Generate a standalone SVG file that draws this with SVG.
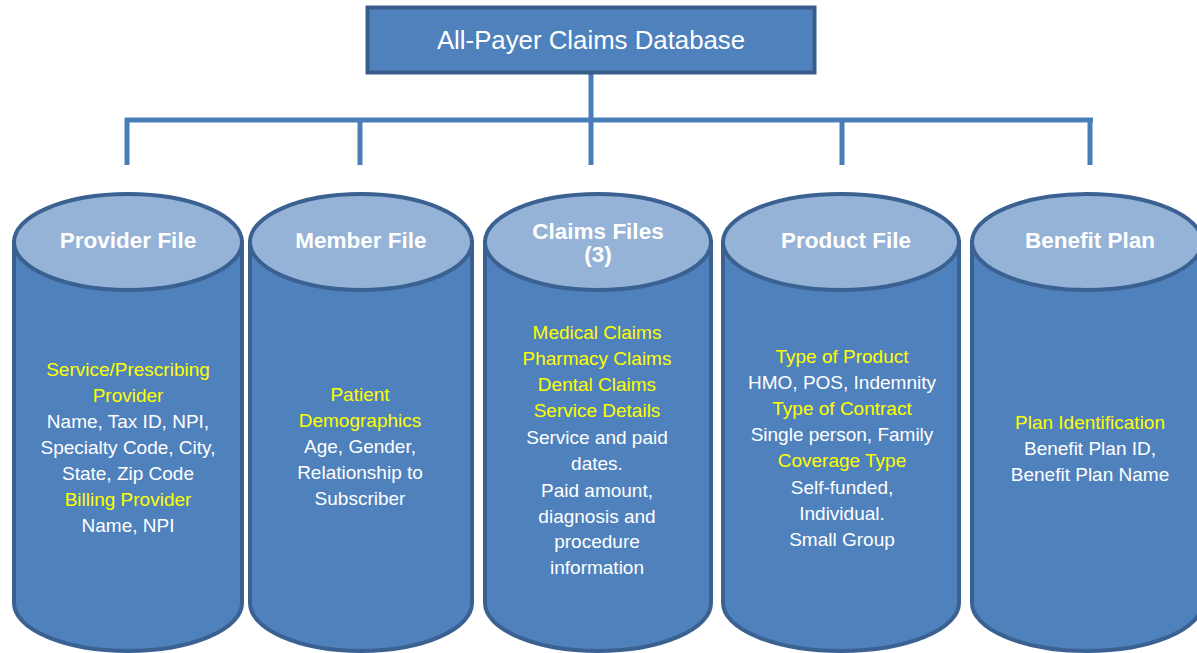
<svg xmlns="http://www.w3.org/2000/svg" width="1197" height="653" viewBox="0 0 1197 653">
<style>
.body{fill:#4f81bd;stroke:#3a6191;stroke-width:4}
.top{fill:#95b3d7;stroke:#3a6191;stroke-width:4}
.title{font-family:"Liberation Sans",Arial,sans-serif;font-weight:bold;font-size:22.5px;fill:#ffffff;text-anchor:middle}
.t{font-family:"Liberation Sans",Arial,sans-serif;font-size:19px;fill:#ffffff;text-anchor:middle}
.y{fill:#ffff00}
.conn{stroke:#4a7ebb;stroke-width:5;fill:none}
</style>
<rect width="1197" height="653" fill="#ffffff"/>
<g id="connectors">
<path class="conn" d="M591 73 V120 M125 120 H1093 M127 118 V165 M360 118 V165 M591 118 V165 M842 118 V165 M1090 118 V165"/>
</g>
<g id="root">
<rect x="367.5" y="7.5" width="447" height="65" fill="#4f81bd" stroke="#385d8a" stroke-width="4"/>
<text x="591" y="49" font-family="Liberation Sans,Arial,sans-serif" font-size="25.8" fill="#ffffff" text-anchor="middle">All-Payer Claims Database</text>
</g>
<g id="provider">
<path class="body" d="M14 242 V603 A114 48 0 0 0 242 603 V242 Z"/>
<ellipse class="top" cx="128" cy="242" rx="114" ry="48"/>
<text class="title" x="128" y="248">Provider File</text>
<text class="t" x="128" y="376"><tspan class="y">Service/Prescribing</tspan><tspan class="y" x="128" dy="26">Provider</tspan><tspan x="128" dy="26">Name, Tax ID, NPI,</tspan><tspan x="128" dy="26">Specialty Code, City,</tspan><tspan x="128" dy="26">State, Zip Code</tspan><tspan class="y" x="128" dy="26">Billing Provider</tspan><tspan x="128" dy="26">Name, NPI</tspan></text>
</g>
<g id="member">
<path class="body" d="M250 242 V603 A111 48 0 0 0 472 603 V242 Z"/>
<ellipse class="top" cx="361" cy="242" rx="111" ry="48"/>
<text class="title" x="361" y="248">Member File</text>
<text class="t" x="360" y="401"><tspan class="y">Patient</tspan><tspan class="y" x="360" dy="26">Demographics</tspan><tspan x="360" dy="26">Age, Gender,</tspan><tspan x="360" dy="26">Relationship to</tspan><tspan x="360" dy="26">Subscriber</tspan></text>
</g>
<g id="claims">
<path class="body" d="M485 242 V603 A113 48 0 0 0 711 603 V242 Z"/>
<ellipse class="top" cx="598" cy="242" rx="113" ry="48"/>
<text class="title" x="598" y="239">Claims Files<tspan x="598" dy="23">(3)</tspan></text>
<text class="t" x="597" y="339"><tspan class="y">Medical Claims</tspan><tspan class="y" x="597" dy="26">Pharmacy Claims</tspan><tspan class="y" x="597" dy="26">Dental Claims</tspan><tspan class="y" x="597" dy="26">Service Details</tspan><tspan x="597" dy="27">Service and paid</tspan><tspan x="597" dy="26">dates.</tspan><tspan x="597" dy="27">Paid amount,</tspan><tspan x="597" dy="26">diagnosis and</tspan><tspan x="597" dy="25">procedure</tspan><tspan x="597" dy="26">information</tspan></text>
</g>
<g id="product">
<path class="body" d="M723 242 V603 A118 48 0 0 0 959 603 V242 Z"/>
<ellipse class="top" cx="841" cy="242" rx="118" ry="48"/>
<text class="title" x="846" y="248">Product File</text>
<text class="t" x="842" y="363"><tspan class="y">Type of Product</tspan><tspan x="842" dy="26">HMO, POS, Indemnity</tspan><tspan class="y" x="842" dy="26">Type of Contract</tspan><tspan x="842" dy="26">Single person, Family</tspan><tspan class="y" x="842" dy="26">Coverage Type</tspan><tspan x="842" dy="27">Self-funded,</tspan><tspan x="842" dy="26">Individual.</tspan><tspan x="842" dy="26">Small Group</tspan></text>
</g>
<g id="benefit">
<path class="body" d="M972 242 V603 A115 48 0 0 0 1202 603 V242 Z"/>
<ellipse class="top" cx="1087" cy="242" rx="115" ry="48"/>
<text class="title" x="1090" y="248">Benefit Plan</text>
<text class="t" x="1090" y="429"><tspan class="y">Plan Identification</tspan><tspan x="1090" dy="26">Benefit Plan ID,</tspan><tspan x="1090" dy="26">Benefit Plan Name</tspan></text>
</g>
</svg>
